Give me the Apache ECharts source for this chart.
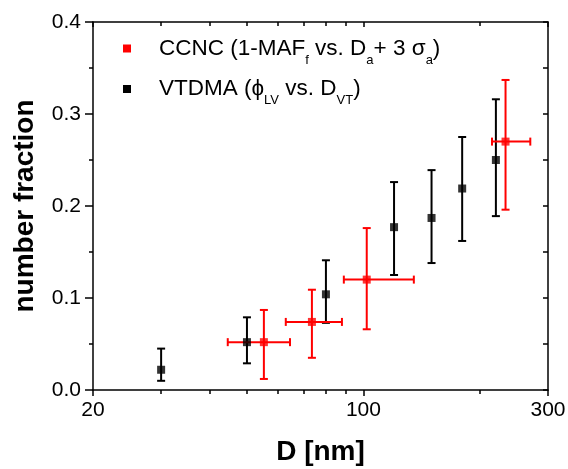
<!DOCTYPE html>
<html><head><meta charset="utf-8">
<script src="https://cdn.jsdelivr.net/npm/echarts@6/dist/echarts.min.js"></script>
<style>html,body{margin:0;padding:0;background:#fff}#c{width:568px;height:469px}</style>
</head><body><div id="c"></div>
<script>
// VTDMA (black)
const vtdmaD = [30, 50, 80, 120, 150, 180, 220];
const vtdmaFrac = [0.022, 0.052, 0.104, 0.177, 0.187, 0.219, 0.250];
const vtdmaLow = [0.010, 0.029, 0.073, 0.125, 0.138, 0.162, 0.189];
const vtdmaHigh = [0.045, 0.079, 0.141, 0.226, 0.239, 0.275, 0.316];
// CCNC (red)
const ccncD = [55.3, 73.6, 102, 233];
const ccncFrac = [0.052, 0.074, 0.120, 0.270];
const ccncLow = [0.012, 0.035, 0.066, 0.196];
const ccncHigh = [0.087, 0.109, 0.176, 0.337];
const ccncDLow = [44.6, 63, 89, 215];
const ccncDHigh = [64.6, 88, 135, 270];
// axis ticks
const xMajor = [20, 100, 300];
const xMinor = [30, 40, 50, 60, 70, 80, 90, 200];
const yTicks = [0, 0.1, 0.2, 0.3, 0.4];

const FONT = 'Liberation Sans, Arial, Helvetica, sans-serif';
const BLACK = '#000000', RED = '#ff0000';

const vtdmaData = vtdmaD.map((d, i) => [d, vtdmaFrac[i], vtdmaLow[i], vtdmaHigh[i], d, d]);
const ccncData = ccncD.map((d, i) => [d, ccncFrac[i], ccncLow[i], ccncHigh[i], ccncDLow[i], ccncDHigh[i]]);

function errRender(color) {
  return function (params, api) {
    const x = api.value(0), y = api.value(1);
    const lo = api.coord([x, api.value(2)]);
    const hi = api.coord([x, api.value(3)]);
    const cap = 4;
    const st = { stroke: color, lineWidth: 2 };
    const ch = [
      { type: 'line', shape: { x1: lo[0], y1: lo[1], x2: hi[0], y2: hi[1] }, style: st },
      { type: 'line', shape: { x1: lo[0] - cap, y1: lo[1], x2: lo[0] + cap, y2: lo[1] }, style: st },
      { type: 'line', shape: { x1: hi[0] - cap, y1: hi[1], x2: hi[0] + cap, y2: hi[1] }, style: st }
    ];
    const xl = api.value(4), xh = api.value(5);
    if (xl !== x || xh !== x) {
      const l = api.coord([xl, y]), r = api.coord([xh, y]);
      ch.push({ type: 'line', shape: { x1: l[0], y1: l[1], x2: r[0], y2: r[1] }, style: st });
      ch.push({ type: 'line', shape: { x1: l[0], y1: l[1] - cap, x2: l[0], y2: l[1] + cap }, style: st });
      ch.push({ type: 'line', shape: { x1: r[0], y1: r[1] - cap, x2: r[0], y2: r[1] + cap }, style: st });
    }
    return { type: 'group', children: ch };
  };
}

const axisLineStyle = { color: BLACK, width: 1.5 };
const tickLine = { color: BLACK, width: 1.5 };
const labelStyle = { fontSize: 21, color: BLACK, fontFamily: FONT };

const chart = echarts.init(document.getElementById('c'), null, { renderer: 'canvas' });
chart.setOption({
  backgroundColor: '#ffffff',
  animation: false,
  grid: { left: 93, right: 20, top: 22, bottom: 79, containLabel: false, outerBoundsMode: 'none' },
  legend: {
    left: 123, top: 37, padding: 0, orient: 'vertical', icon: 'rect', itemWidth: 8, itemHeight: 8, itemGap: 11,
    data: [{ name: 'CCNC', itemStyle: { color: RED } }, { name: 'VTDMA', itemStyle: { color: BLACK } }],
    formatter: function (name) {
      if (name === 'CCNC') return '{sp|}{t|CCNC (1-MAF}{s|f}{t| vs. D}{s|a}{t|+ 3 σ}{s|a}{t|)}';
      return '{sp|}{t|VTDMA (ϕ}{s|LV}{t| vs. D}{s|VT}{t|)}';
    },
    textStyle: {
      fontFamily: FONT, color: BLACK,
      rich: {
        sp: { width: 23 },
        t: { fontSize: 22.5, lineHeight: 26, fontFamily: FONT, color: BLACK, verticalAlign: 'middle' },
        s: { fontSize: 13, lineHeight: 13, fontFamily: FONT, color: BLACK, verticalAlign: 'bottom', padding: [0, 0, -5, 0] }
      }
    }
  },
  xAxis: [
    {
      type: 'log', logBase: 10, min: 20, max: 300, position: 'bottom',
      axisLine: { lineStyle: axisLineStyle },
      axisTick: { inside: false, length: 6, lineStyle: tickLine, customValues: xMajor },
      axisLabel: Object.assign({ margin: 10, customValues: xMajor, formatter: v => String(Math.round(v)) }, labelStyle),
      splitLine: { show: false }, minorTick: { show: false },
      name: 'D [nm]', nameLocation: 'middle', nameGap: 48,
      nameTextStyle: { fontSize: 28, fontWeight: 'bold', color: BLACK, fontFamily: FONT }
    },
    {
      type: 'log', logBase: 10, min: 20, max: 300, position: 'bottom',
      axisLine: { show: false },
      axisTick: { inside: false, length: 4, lineStyle: tickLine, customValues: xMinor },
      axisLabel: { show: false }, splitLine: { show: false }
    },
    {
      type: 'log', logBase: 10, min: 20, max: 300, position: 'top',
      axisLine: { lineStyle: axisLineStyle },
      axisTick: { inside: true, length: 5, lineStyle: tickLine, customValues: xMajor },
      axisLabel: { show: false }, splitLine: { show: false }
    },
    {
      type: 'log', logBase: 10, min: 20, max: 300, position: 'top',
      axisLine: { show: false },
      axisTick: { inside: true, length: 4, lineStyle: tickLine, customValues: xMinor },
      axisLabel: { show: false }, splitLine: { show: false }
    }
  ],
  yAxis: [
    {
      type: 'value', min: yTicks[0], max: yTicks[yTicks.length - 1], interval: 0.1, position: 'left',
      axisLine: { show: true, lineStyle: axisLineStyle },
      axisTick: { show: true, inside: false, length: 8, lineStyle: tickLine },
      minorTick: { show: true, splitNumber: 2, length: 4, lineStyle: tickLine },
      axisLabel: Object.assign({ margin: 12, formatter: v => v.toFixed(1) }, labelStyle),
      splitLine: { show: false }, minorSplitLine: { show: false },
      name: 'number fraction', nameLocation: 'middle', nameGap: 54, nameRotate: 90,
      nameTextStyle: { fontSize: 28, fontWeight: 'bold', color: BLACK, fontFamily: FONT }
    },
    {
      type: 'value', min: yTicks[0], max: yTicks[yTicks.length - 1], interval: 0.1, position: 'right',
      axisLine: { show: true, lineStyle: axisLineStyle },
      axisTick: { show: true, inside: true, length: 5, lineStyle: tickLine },
      minorTick: { show: true, splitNumber: 2, length: 5, lineStyle: tickLine },
      axisLabel: { show: false }, splitLine: { show: false }
    }
  ],
  series: [
    {
      name: 'VTDMA', type: 'custom', xAxisIndex: 0, yAxisIndex: 0, data: vtdmaData,
      dimensions: ['d', 'f', 'lo', 'hi', 'dlo', 'dhi'], encode: { x: 0, y: 1 },
      itemStyle: { color: BLACK }, renderItem: errRender(BLACK), z: 2
    },
    {
      name: 'CCNC', type: 'custom', xAxisIndex: 0, yAxisIndex: 0, data: ccncData,
      dimensions: ['d', 'f', 'lo', 'hi', 'dlo', 'dhi'], encode: { x: [0, 4, 5], y: [1, 2, 3] },
      itemStyle: { color: RED }, renderItem: errRender(RED), z: 2
    },
    {
      name: 'VTDMA', type: 'scatter', xAxisIndex: 0, yAxisIndex: 0,
      data: vtdmaD.map((d, i) => [d, vtdmaFrac[i]]), symbol: 'rect', symbolSize: 8,
      itemStyle: { color: BLACK }, z: 3
    },
    {
      name: 'CCNC', type: 'scatter', xAxisIndex: 0, yAxisIndex: 0,
      data: ccncD.map((d, i) => [d, ccncFrac[i]]), symbol: 'rect', symbolSize: 8,
      itemStyle: { color: RED }, z: 3
    }
  ]
});
</script></body></html>
